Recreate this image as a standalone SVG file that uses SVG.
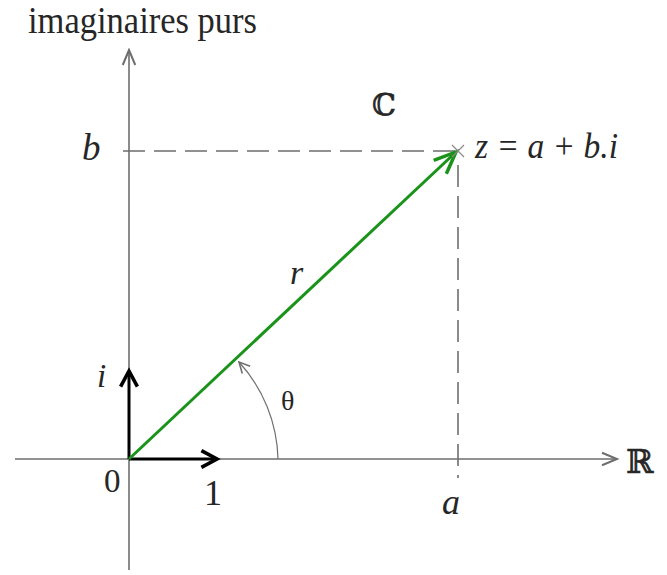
<svg xmlns="http://www.w3.org/2000/svg" width="667" height="575" viewBox="0 0 667 575">
<defs>
<style>
.axis{stroke:#6e6e6e;stroke-width:1.6;fill:none}
.dash{stroke:#6e6e6e;stroke-width:1.6;fill:none;stroke-dasharray:22 9}
.vec{stroke:#000;stroke-width:3;fill:none}
.green{stroke:#1a931a;stroke-width:3;fill:none}
.arc{stroke:#707070;stroke-width:1.2;fill:none}
text{font-family:"Liberation Serif","Times New Roman",serif;fill:#262626}
.it{font-style:italic}
.ds{font-family:"DejaVu Serif",serif;stroke:#262626;stroke-width:0.6}
</style>
<marker id="axHead" markerUnits="userSpaceOnUse" markerWidth="20" markerHeight="20" refX="0" refY="0" viewBox="-14 -8 16 16" orient="auto">
<path d="M-12,-5 L0,0 L-12,5" fill="none" stroke="#6e6e6e" stroke-width="1.6"/>
</marker>
<marker id="blkHead" markerUnits="userSpaceOnUse" markerWidth="24" markerHeight="24" refX="0" refY="0" viewBox="-16 -10 20 20" orient="auto">
<path d="M-13,-7 L0,0 L-13,7" fill="none" stroke="#000" stroke-width="3"/>
</marker>
<marker id="grnHead" markerUnits="userSpaceOnUse" markerWidth="30" markerHeight="30" refX="0" refY="0" viewBox="-22 -12 26 24" orient="auto">
<path d="M-19,-8 L0,0 L-19,8" fill="none" stroke="#1a931a" stroke-width="3"/>
</marker>
<marker id="arcHead" markerUnits="userSpaceOnUse" markerWidth="16" markerHeight="16" refX="0" refY="0" viewBox="-10 -6 12 12" orient="auto">
<path d="M-8,-4 L0,0 L-8,4" fill="none" stroke="#707070" stroke-width="1.2"/>
</marker>
</defs>
<rect width="667" height="575" fill="#fff"/>
<g id="connectors">
<line class="axis" x1="15" y1="459" x2="617" y2="459" marker-end="url(#axHead)"/>
<line class="axis" x1="129" y1="570" x2="129" y2="50" marker-end="url(#axHead)"/>
<line class="dash" x1="123" y1="151" x2="458" y2="151"/>
<line class="dash" x1="458" y1="165" x2="458" y2="478"/>
<path class="arc" d="M278,459 A149,149 0 0 0 239,362" marker-end="url(#arcHead)"/>
<line class="vec" x1="129" y1="459" x2="217" y2="459" marker-end="url(#blkHead)"/>
<line class="vec" x1="129" y1="459" x2="129" y2="371" marker-end="url(#blkHead)"/>
<line class="green" x1="129" y1="459" x2="456" y2="152" marker-end="url(#grnHead)"/>
<path d="M452,145 L464,157 M464,145 L452,157" stroke="#8a8a8a" stroke-width="1.2"/>
</g>
<g id="label-imag"><text x="28" y="33" font-size="37" textLength="229" lengthAdjust="spacingAndGlyphs">imaginaires purs</text></g>
<g id="label-b"><text class="it" x="82" y="160" font-size="37">b</text></g>
<g id="label-C"><text class="ds" x="372" y="115" font-size="30">ℂ</text></g>
<g id="label-z"><text class="it" x="475" y="158" font-size="36" textLength="143" lengthAdjust="spacingAndGlyphs">z = a + b.i</text></g>
<g id="label-r"><text class="it" x="290" y="284" font-size="34">r</text></g>
<g id="label-theta"><text x="281" y="410" font-size="28">θ</text></g>
<g id="label-i"><text class="it" x="97" y="387" font-size="33">i</text></g>
<g id="label-0"><text x="104" y="492" font-size="33">0</text></g>
<g id="label-1"><text x="204" y="505" font-size="36">1</text></g>
<g id="label-a"><text class="it" x="442" y="514" font-size="36">a</text></g>
<g id="label-R"><text class="ds" x="626" y="473" font-size="33">ℝ</text></g>
</svg>
